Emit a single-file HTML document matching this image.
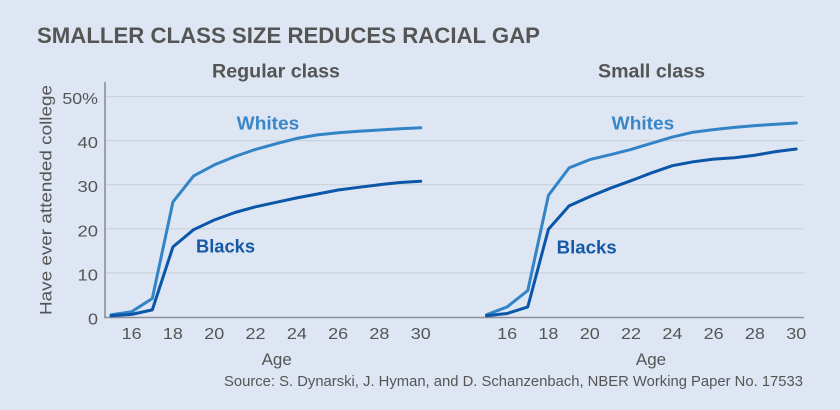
<!DOCTYPE html>
<html>
<head>
<meta charset="utf-8">
<style>
  html,body{margin:0;padding:0;background:#dde6f2;}
  svg{display:block;}
  text{font-family:"Liberation Sans",sans-serif;}
</style>
</head>
<body>
<svg width="840" height="410" viewBox="0 0 840 410" xmlns="http://www.w3.org/2000/svg">
  <rect width="840" height="410" fill="#dde6f2"/>

  <!-- Title -->
  <text x="37" y="43" font-size="22" font-weight="bold" fill="#555555" textLength="503" lengthAdjust="spacingAndGlyphs">SMALLER CLASS SIZE REDUCES RACIAL GAP</text>

  <!-- Panel titles -->
  <text x="212" y="77.5" font-size="19" font-weight="bold" fill="#555555" textLength="128" lengthAdjust="spacingAndGlyphs">Regular class</text>
  <text x="598" y="77.5" font-size="19" font-weight="bold" fill="#555555" textLength="107" lengthAdjust="spacingAndGlyphs">Small class</text>

  <!-- Gridlines -->
  <g stroke="#cad1db" stroke-width="1.2">
    <line x1="105" y1="96.5" x2="804" y2="96.5"/>
    <line x1="105" y1="140.6" x2="804" y2="140.6"/>
    <line x1="105" y1="184.7" x2="804" y2="184.7"/>
    <line x1="105" y1="228.8" x2="804" y2="228.8"/>
    <line x1="105" y1="272.9" x2="804" y2="272.9"/>
  </g>

  <!-- Axes -->
  <line x1="105" y1="82" x2="105" y2="317.5" stroke="#8c9097" stroke-width="1.6"/>
  <line x1="104" y1="317.5" x2="804" y2="317.5" stroke="#8c9097" stroke-width="1.6"/>

  <!-- Y tick labels -->
  <g font-size="16" fill="#555555" text-anchor="end">
    <text x="98" y="104" textLength="35.6" lengthAdjust="spacingAndGlyphs">50%</text>
    <text x="98" y="148.1" textLength="20.5" lengthAdjust="spacingAndGlyphs">40</text>
    <text x="98" y="192.2" textLength="20.5" lengthAdjust="spacingAndGlyphs">30</text>
    <text x="98" y="236.3" textLength="20.5" lengthAdjust="spacingAndGlyphs">20</text>
    <text x="98" y="280.4" textLength="20.5" lengthAdjust="spacingAndGlyphs">10</text>
    <text x="98" y="324.5" textLength="10" lengthAdjust="spacingAndGlyphs">0</text>
  </g>

  <!-- Y axis title -->
  <text transform="translate(51.5,200) rotate(-90)" font-size="17" fill="#555555" text-anchor="middle" textLength="230" lengthAdjust="spacingAndGlyphs">Have ever attended college</text>

  <!-- X tick labels -->
  <g font-size="16" fill="#555555" text-anchor="middle">
    <text x="131.65" y="339" textLength="20" lengthAdjust="spacingAndGlyphs">16</text>
    <text x="172.95" y="339" textLength="20" lengthAdjust="spacingAndGlyphs">18</text>
    <text x="214.25" y="339" textLength="20" lengthAdjust="spacingAndGlyphs">20</text>
    <text x="255.55" y="339" textLength="20" lengthAdjust="spacingAndGlyphs">22</text>
    <text x="296.85" y="339" textLength="20" lengthAdjust="spacingAndGlyphs">24</text>
    <text x="338.15" y="339" textLength="20" lengthAdjust="spacingAndGlyphs">26</text>
    <text x="379.45" y="339" textLength="20" lengthAdjust="spacingAndGlyphs">28</text>
    <text x="420.75" y="339" textLength="20" lengthAdjust="spacingAndGlyphs">30</text>

    <text x="507.15" y="339" textLength="20" lengthAdjust="spacingAndGlyphs">16</text>
    <text x="548.45" y="339" textLength="20" lengthAdjust="spacingAndGlyphs">18</text>
    <text x="589.75" y="339" textLength="20" lengthAdjust="spacingAndGlyphs">20</text>
    <text x="631.05" y="339" textLength="20" lengthAdjust="spacingAndGlyphs">22</text>
    <text x="672.35" y="339" textLength="20" lengthAdjust="spacingAndGlyphs">24</text>
    <text x="713.65" y="339" textLength="20" lengthAdjust="spacingAndGlyphs">26</text>
    <text x="754.95" y="339" textLength="20" lengthAdjust="spacingAndGlyphs">28</text>
    <text x="796.25" y="339" textLength="20" lengthAdjust="spacingAndGlyphs">30</text>
  </g>

  <!-- Age labels -->
  <text x="276.7" y="365" font-size="17" fill="#555555" text-anchor="middle">Age</text>
  <text x="651" y="365" font-size="17" fill="#555555" text-anchor="middle">Age</text>

  <!-- Source -->
  <text x="803" y="386" font-size="14.5" fill="#555555" text-anchor="end" textLength="579" lengthAdjust="spacingAndGlyphs">Source: S. Dynarski, J. Hyman, and D. Schanzenbach, NBER Working Paper No. 17533</text>

  <!-- Series: Regular class -->
  <polyline fill="none" stroke="#3384c6" stroke-width="3" stroke-linejoin="round" stroke-linecap="round"
    points="111,314.8 131.65,311.7 152.3,298.5 172.95,201.9 193.6,175.9 214.25,164.9 234.9,156.5 255.55,149.4 276.2,143.7 296.85,138.4 317.5,134.9 338.15,132.7 358.8,131.3 379.45,130.0 400.1,128.7 420.75,127.8"/>
  <polyline fill="none" stroke="#0b56a8" stroke-width="3" stroke-linejoin="round" stroke-linecap="round"
    points="111,315.7 131.65,314.4 152.3,309.9 172.95,246.9 193.6,229.7 214.25,220.0 234.9,212.5 255.55,206.8 276.2,202.3 296.85,197.9 317.5,194.0 338.15,190.0 358.8,187.3 379.45,184.7 400.1,182.5 420.75,181.2"/>

  <!-- Series: Small class -->
  <polyline fill="none" stroke="#3384c6" stroke-width="3" stroke-linejoin="round" stroke-linecap="round"
    points="486.5,314.8 507.15,306.9 527.8,290.5 548.45,195.3 569.1,167.9 589.75,159.6 610.4,154.7 631.05,149.4 651.7,143.2 672.35,137.1 693,132.2 713.65,129.6 734.3,127.4 754.95,125.6 775.6,124.3 796.25,123.0"/>
  <polyline fill="none" stroke="#0b56a8" stroke-width="3" stroke-linejoin="round" stroke-linecap="round"
    points="486.5,315.7 507.15,313.5 527.8,306.9 548.45,229.2 569.1,205.9 589.75,196.6 610.4,188.2 631.05,180.7 651.7,172.8 672.35,165.7 693,161.8 713.65,159.1 734.3,157.8 754.95,155.2 775.6,151.6 796.25,149.0"/>

  <!-- Series labels -->
  <text x="236.7" y="129.3" font-size="18" font-weight="bold" fill="#3a86c8" textLength="62.6" lengthAdjust="spacingAndGlyphs">Whites</text>
  <text x="196" y="252.3" font-size="18" font-weight="bold" fill="#1559a6" textLength="59" lengthAdjust="spacingAndGlyphs">Blacks</text>
  <text x="611.7" y="129.3" font-size="18" font-weight="bold" fill="#3a86c8" textLength="62.6" lengthAdjust="spacingAndGlyphs">Whites</text>
  <text x="556.7" y="253.3" font-size="18" font-weight="bold" fill="#1559a6" textLength="60" lengthAdjust="spacingAndGlyphs">Blacks</text>
</svg>
</body>
</html>
